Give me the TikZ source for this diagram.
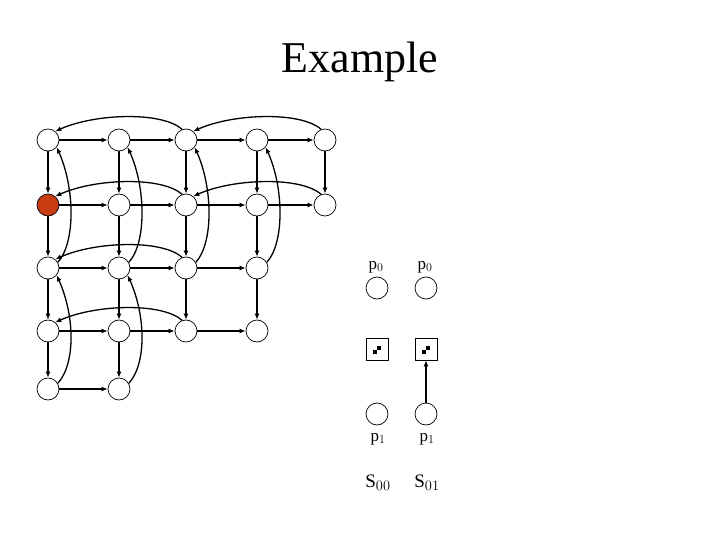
\documentclass[tikz,border=0pt]{standalone}
\usepackage{fontspec}
\setmainfont{Liberation Serif}
\usetikzlibrary{arrows.meta}
\begin{document}
\begin{tikzpicture}[x=1pt,y=-1pt,
  cell/.style={circle,draw,line width=0.7pt,minimum size=22pt,inner sep=0pt,fill=white},
  hot/.style={cell,fill={rgb,255:red,200;green,60;blue,20}},
  sq/.style={draw,line width=0.7pt,minimum size=22pt,inner sep=0pt},
  arr/.style={-{Latex[length=6pt,width=5pt]},line width=1.3pt},
  lbl/.style={font=\fontsize{17}{17}\selectfont,inner sep=0pt}]
\useasboundingbox (0,0) rectangle (720,540);
\node[font=\fontsize{44}{44}\selectfont] (title) at (360,62) {Example};
% grid
\foreach \c/\x in {0/48,1/119,2/186,3/257,4/325}{
  \foreach \r/\y in {0/140,1/205,2/268,3/331,4/389}{
    \coordinate (p\c\r) at (\x,\y);}}
\foreach \c/\r in {0/0,1/0,2/0,3/0,4/0,1/1,2/1,3/1,4/1,0/2,1/2,2/2,3/2,0/3,1/3,2/3,3/3,0/4,1/4}
  {\node[cell] (n\c\r) at (p\c\r) {};}
\node[hot] (n01) at (p01) {};
% right arrows
\foreach \a/\b in {00/10,10/20,20/30,30/40,01/11,11/21,21/31,31/41,02/12,12/22,22/32,03/13,13/23,23/33,04/14}
  {\draw[arr] (n\a) -- (n\b);}
% down arrows
\foreach \a/\b in {00/01,01/02,02/03,03/04,10/11,11/12,12/13,13/14,20/21,21/22,22/23,30/31,31/32,32/33,40/41}
  {\draw[arr] (n\a) -- (n\b);}
% horizontal back arcs
\foreach \a/\b in {20/00,40/20,21/01,41/21,22/02,23/03}
  {\draw[arr] (n\a.110) .. controls ++(-20,-18) and ([shift={(40,-18)}]n\b.50) .. (n\b.50);}
% vertical back arcs
\foreach \a/\b in {02/00,04/02,12/10,14/12,22/20,32/30}
  {\draw[arr] (n\a.30) .. controls ++(18,-20) and ([shift={(18,40)}]n\b.-40) .. (n\b.-40);}
% right panel
\node[cell] (a0) at (377,288) {};
\node[cell] (b0) at (426,288) {};
\node[cell] (a1) at (377,414) {};
\node[cell] (b1) at (426,414) {};
\node[sq] (sa) at (377,349) {};
\node[sq] (sb) at (426,349) {};
\foreach \s in {sa,sb}{
  \fill ([shift={(-4,1)}]\s.center) rectangle ++(4,4);
  \fill ([shift={(0,-3)}]\s.center) rectangle ++(4,4);}
\draw[arr] (b1) -- (sb);
\node[lbl] (la0) at (376,267) {p$_0$};
\node[lbl] (lb0) at (425,267) {p$_0$};
\node[lbl] (la1) at (378,439) {p$_1$};
\node[lbl] (lb1) at (427,439) {p$_1$};
\node[lbl,font=\fontsize{19}{19}\selectfont] (s0) at (378,483) {S$_{00}$};
\node[lbl,font=\fontsize{19}{19}\selectfont] (s1) at (427,483) {S$_{01}$};
\end{tikzpicture}
\end{document}
